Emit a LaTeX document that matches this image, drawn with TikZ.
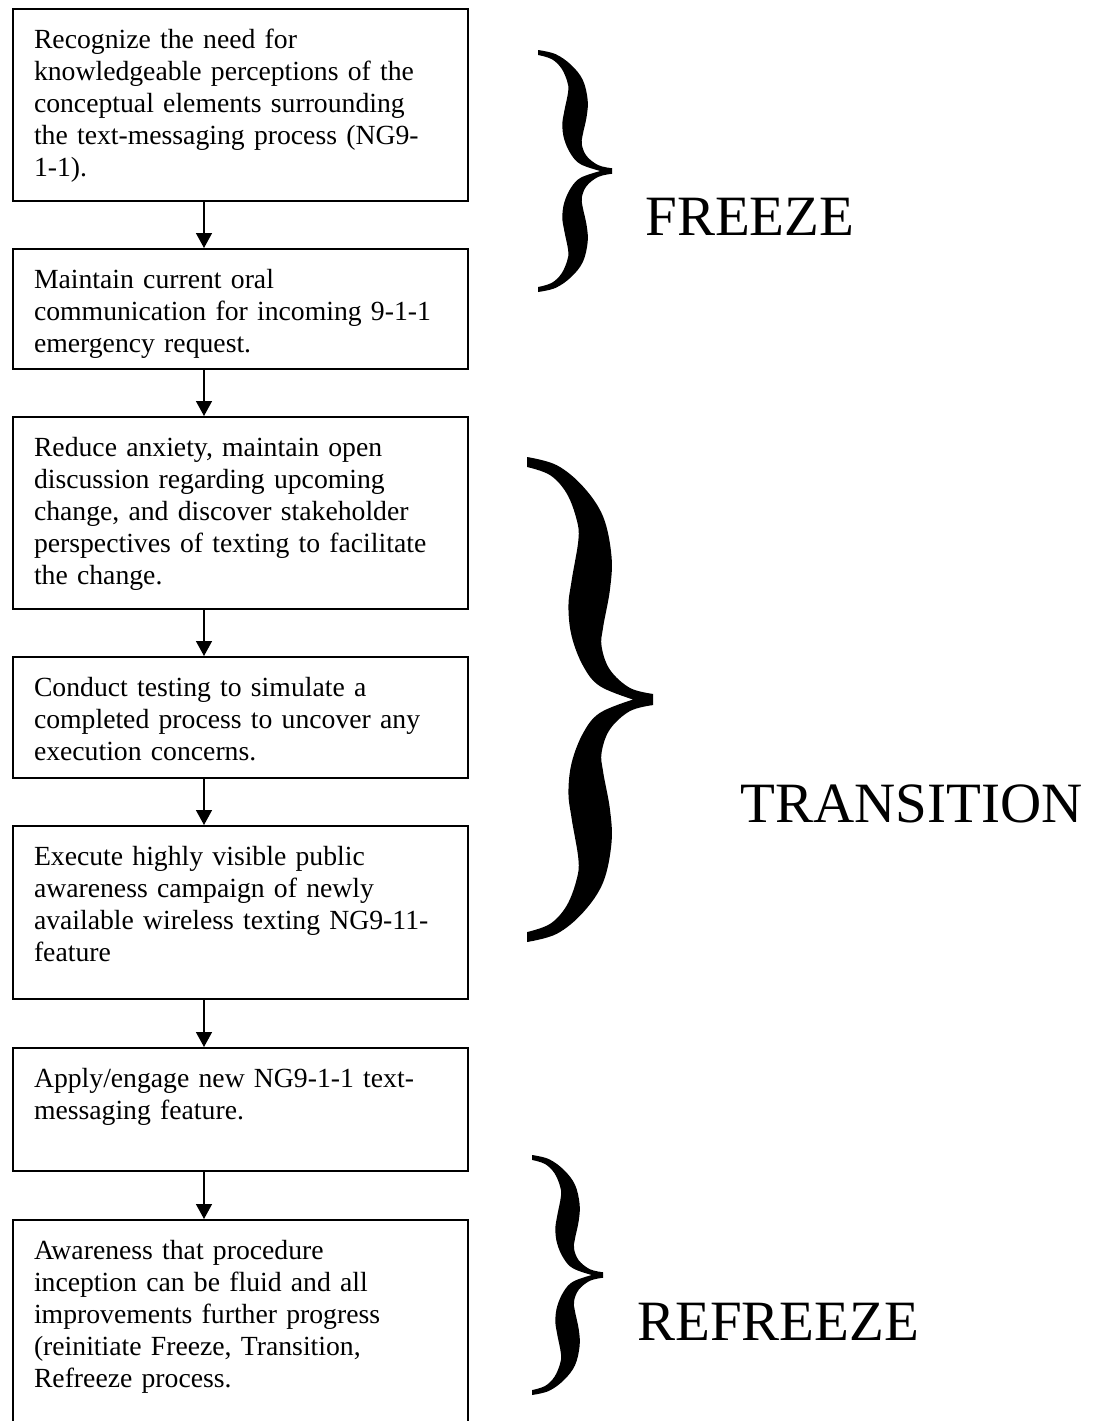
\documentclass[tikz,border=0pt]{standalone}
\usepackage{fontspec}
\setmainfont{Liberation Serif}
\usepackage{tikz}
\usetikzlibrary{arrows.meta}

\begin{document}
\begin{tikzpicture}[x=0.5pt,y=-0.5pt,
	stepbox/.style={draw=black, line width=1pt, anchor=north west, align=left,
		text width=206.5pt, inner xsep=10.5pt, inner ysep=0pt, text height=19.5pt,
		font=\fontsize{13.85pt}{16pt}\selectfont},
	phase/.style={anchor=base west, inner sep=0pt, font=\fontsize{28.5pt}{30pt}\selectfont},
	flow/.style={line width=0.7pt, -{Triangle[length=7.5pt,width=8pt]}},
	pics/curly/.style={code={
		\fill plot[smooth,tension=.6] coordinates {(0,0) (0.237,0.034) (0.447,0.123) (0.605,0.247) (0.671,0.411) (0.658,0.548) (0.605,0.699) (0.592,0.781) (0.658,0.877) (0.816,0.952) (1,0.977)}
			-- plot[smooth,tension=.6] coordinates {(1,1.023) (0.816,1.048) (0.658,1.123) (0.592,1.219) (0.605,1.301) (0.658,1.452) (0.671,1.589) (0.605,1.753) (0.447,1.877) (0.237,1.966) (0,2)}
			-- plot[smooth,tension=.6] coordinates {(0,1.959) (0.184,1.925) (0.316,1.849) (0.395,1.740) (0.408,1.658) (0.355,1.493) (0.329,1.384) (0.355,1.260) (0.447,1.137) (0.579,1.055) (0.842,1)}
			-- plot[smooth,tension=.6] coordinates {(0.842,1) (0.579,0.945) (0.447,0.863) (0.355,0.740) (0.329,0.616) (0.355,0.507) (0.408,0.342) (0.395,0.260) (0.316,0.151) (0.184,0.075) (0,0.041)}
			-- cycle;
	}}]
	\useasboundingbox (0,0) rectangle (1097,1421);

	% steps
	\node[stepbox, text depth=76.5pt] (1) at (12,8) {Recognize the need for\\ knowledgeable perceptions of the\\ conceptual elements surrounding\\ the text-messaging process (NG9-\\ 1-1).};
	\node[stepbox, text depth=40.5pt] (2) at (12,248) {Maintain current oral\\ communication for incoming 9-1-1\\ emergency request.};
	\node[stepbox, text depth=76.5pt] (3) at (12,416) {Reduce anxiety, maintain open\\ discussion regarding upcoming\\ change, and discover stakeholder\\ perspectives of texting to facilitate\\ the change.};
	\node[stepbox, text depth=41pt] (4) at (12,656) {Conduct testing to simulate a\\ completed process to uncover any\\ execution concerns.};
	\node[stepbox, text depth=67pt] (5) at (12,825) {Execute highly visible public\\ awareness campaign of newly\\ available wireless texting NG9-11-\\ feature};
	\node[stepbox, text depth=42pt] (6) at (12,1047) {Apply/engage new NG9-1-1 text-\\ messaging feature.};
	\node[stepbox, text depth=93.5pt] (7) at (12,1219) {Awareness that procedure\\ inception can be fluid and all\\ improvements further progress\\ (reinitiate Freeze, Transition,\\ Refreeze process.};

	% arrows
	\coordinate (ax) at (204,0);
	\draw[flow] (1.south -| ax) -- (2.north -| ax);
	\draw[flow] (2.south -| ax) -- (3.north -| ax);
	\draw[flow] (3.south -| ax) -- (4.north -| ax);
	\draw[flow] (4.south -| ax) -- (5.north -| ax);
	\draw[flow] (5.south -| ax) -- (6.north -| ax);
	\draw[flow] (6.south -| ax) -- (7.north -| ax);

	% braces and phases
	\pic[xscale=74, yscale=121] at (538,50) {curly};
	\pic[xscale=126, yscale=242.5] at (527,457) {curly};
	\pic[xscale=71, yscale=120] at (532,1155) {curly};
	\node[phase] (freeze) at (645,235) {FREEZE};
	\node[phase] (transition) at (740,822) {TRANSITION};
	\node[phase] (refreeze) at (637,1340) {REFREEZE};
\end{tikzpicture}
\end{document}
